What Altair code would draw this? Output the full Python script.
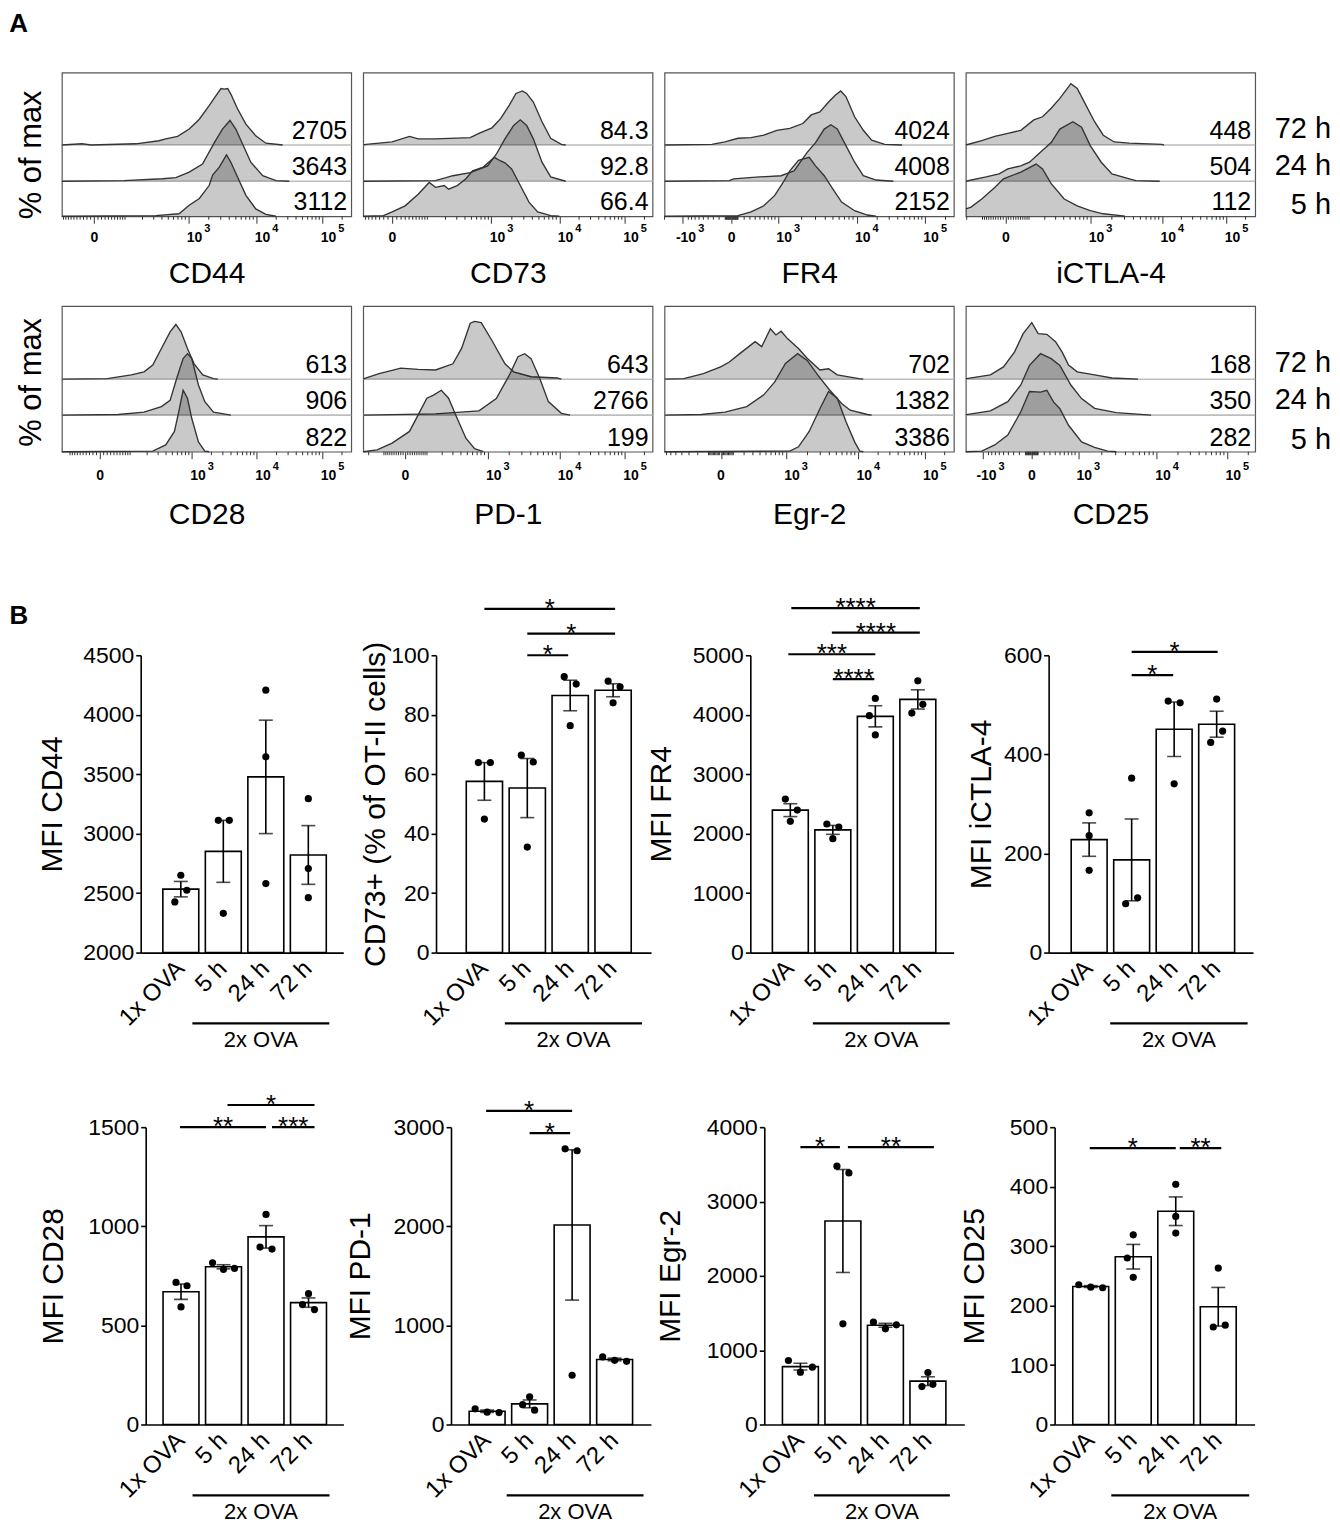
import numpy as np
import pandas as pd
import altair as alt

FONT = "Liberation Sans"

# ======================= A: flow histograms =======================
# points: (display channel 0-1000 along the biexponential axis, % of max)
CD44_72H = [(0,0),(70,2),(100,0),(255,2),(336,7),(359,10),(400,14),(440,26),(475,42),(509,64),(532,80),(550,92),(561,91),(573,92),(584,83),(607,59),(636,34),(670,15),(705,3),(763,0)]
CD44_24H = [(0,0),(215,1),(348,4),(394,6),(440,15),(486,28),(527,63),(555,85),(581,99),(601,85),(624,61),(653,31),(694,9),(740,1),(786,0)]
CD44_5H = [(0,0),(325,1),(405,4),(440,18),(475,29),(509,50),(521,67),(544,80),(569,100),(584,88),(607,64),(636,34),(670,12),(705,3),(740,0)]

CD73_72H = [(0,0),(10,1),(100,5),(160,14),(190,10),(250,10),(370,12),(400,19),(445,28),(475,43),(505,65),(528,84),(550,88),(565,84),(588,70),(618,38),(648,11),(685,1),(700,0)]
CD73_24H = [(0,0),(250,1),(310,9),(370,14),(430,25),(460,44),(490,69),(520,91),(543,100),(565,91),(588,69),(618,31),(648,7),(700,0)]
CD73_5H = [(0,0),(70,1),(100,7),(145,17),(190,36),(228,55),(250,47),(280,50),(295,44),(325,50),(355,61),(378,74),(415,80),(453,96),(475,90),(490,87),(513,77),(543,50),(573,23),(603,7),(648,1),(678,0)]

FR4_72H = [(0,0),(164,1),(209,5),(254,11),(299,12),(343,16),(388,24),(433,27),(478,35),(507,49),(537,54),(567,70),(590,81),(609,88),(627,79),(657,46),(687,24),(716,8),(761,1),(821,0)]
FR4_24H = [(0,0),(224,1),(239,4),(328,7),(403,9),(448,17),(493,47),(522,63),(552,85),(575,92),(597,85),(627,58),(657,31),(687,9),(731,2),(791,0)]
FR4_5H = [(0,0),(254,1),(299,7),(343,17),(381,34),(410,55),(433,74),(463,91),(500,96),(522,82),(552,66),(582,44),(612,23),(657,9),(701,2),(731,0)]

ICTLA4_72H = [(0,0),(55,7),(100,14),(145,19),(190,24),(235,41),(265,46),(295,60),(325,76),(363,100),(385,92),(415,65),(445,38),(475,16),(513,5),(565,3),(678,1),(685,0)]
ICTLA4_24H = [(0,0),(70,7),(115,12),(145,20),(190,25),(220,31),(250,44),(295,63),(325,85),(370,97),(400,88),(430,58),(468,31),(505,12),(565,4),(588,1),(670,0)]
ICTLA4_5H = [(0,12),(18,15),(55,28),(100,47),(130,61),(190,72),(243,85),(265,77),(295,53),(340,28),(385,17),(430,9),(475,4),(535,1),(550,0)]

CD28_72H = [(0,0),(157,1),(240,7),(284,12),(314,23),(344,50),(374,77),(394,89),(412,77),(434,50),(457,25),(487,7),(524,1),(539,0)]
CD28_24H = [(0,0),(195,1),(284,5),(344,14),(374,24),(397,60),(419,92),(434,100),(449,92),(472,49),(494,22),(524,5),(584,0)]
CD28_5H = [(0,0),(314,1),(359,11),(389,33),(404,65),(419,100),(434,87),(449,54),(472,16),(494,1),(509,0)]

PD1_72H = [(0,0),(3,1),(55,9),(130,18),(190,16),(250,15),(310,25),(340,50),(370,91),(385,94),(408,92),(445,63),(490,25),(520,12),(580,4),(670,2),(685,0)]
PD1_24H = [(0,0),(250,2),(400,7),(460,27),(505,65),(535,95),(558,100),(580,92),(610,60),(640,22),(685,3),(715,0)]
PD1_5H = [(0,0),(48,3),(100,14),(160,33),(190,60),(220,87),(243,92),(270,100),(295,87),(325,54),(355,22),(385,5),(415,0)]

EGR2_72H = [(0,0),(67,1),(134,9),(194,20),(224,28),(261,42),(291,53),(313,61),(336,53),(366,82),(385,72),(403,78),(425,66),(463,50),(493,34),(537,15),(567,17),(597,7),(672,1),(687,0)]
EGR2_24H = [(0,0),(127,1),(209,5),(284,14),(343,33),(381,54),(418,84),(460,100),(493,89),(530,65),(567,43),(612,19),(642,8),(701,1),(716,0)]
EGR2_5H = [(0,0),(433,1),(463,8),(500,33),(537,70),(567,98),(597,87),(627,49),(657,16),(675,1),(687,0)]

CD25_72H = [(0,0),(3,1),(85,7),(130,20),(168,44),(198,74),(228,92),(250,74),(280,73),(310,61),(333,44),(355,23),(385,12),(445,7),(505,2),(595,0)]
CD25_24H = [(0,0),(3,1),(85,7),(145,22),(190,49),(220,81),(258,100),(295,92),(325,81),(363,49),(400,27),(445,11),(520,4),(640,0)]
CD25_5H = [(0,0),(55,1),(100,11),(145,27),(190,65),(220,98),(258,97),(280,100),(303,81),(325,70),(355,43),(400,16),(445,7),(490,1),(520,0)]

TIME_LABELS = ["72 h", "24 h", "5 h"]
MFI_CD44 = ["2705", "3643", "3112"]
MFI_CD73 = ["84.3", "92.8", "66.4"]
MFI_FR4 = ["4024", "4008", "2152"]
MFI_ICTLA4 = ["448", "504", "112"]
MFI_CD28 = ["613", "906", "822"]
MFI_PD1 = ["643", "2766", "199"]
MFI_EGR2 = ["702", "1382", "3386"]
MFI_CD25 = ["168", "350", "282"]

# ======================= B: bar charts =======================
GROUPS = ["1x OVA", "5 h", "24 h", "72 h"]
CD44_PTS = [[2650, 2524, 2426], [3112, 3112, 2330], [4206, 3646, 2580], [3294, 2706, 2462]]
CD73_PTS = [[63.9, 63.9, 44.9], [66.4, 64.1, 35.5], [92.8, 90.3, 76.3], [91.3, 89.4, 84.0]]
FR4_PTS = [[2581, 2397, 2207], [2162, 2112, 1916], [4274, 3984, 3660], [4570, 4028, 4174]]
ICTLA4_PTS = [[282, 236, 166], [352, 98.5, 110.6], [507.5, 504, 340.6], [511.5, 447, 424]]
CD28_PTS = [[717, 700, 593], [816, 783, 788], [1060, 895, 885], [660, 605, 580]]
PD1_PTS = [[158, 124, 120], [280, 200, 145], [2782, 2762, 497], [682, 648, 638]]
EGR2_PTS = [[861, 771, 704], [3475, 3385, 1354], [1377, 1287, 1341], [700, 510, 540]]
CD25_PTS = [[235, 231, 230], [319, 280, 247.5], [404, 350, 322], [263, 164, 167]]

# significance brackets: (from, to, y level, label)
SIG_CD44 = []
SIG_CD73 = [("1x OVA", "72 h", 115.6, "*"), ("5 h", "72 h", 107.3, "*"), ("5 h", "24 h", 100.0, "*")]
SIG_FR4 = [("1x OVA", "72 h", 5794, "****"), ("5 h", "72 h", 5380, "****"), ("1x OVA", "24 h", 5017, "***"), ("5 h", "24 h", 4598, "****")]
SIG_ICTLA4 = [("5 h", "72 h", 606.7, "*"), ("5 h", "24 h", 559.8, "*")]
SIG_CD28 = [("5 h", "72 h", 1612, "*"), ("1x OVA", "24 h", 1500, "**"), ("24 h", "72 h", 1500, "***")]
SIG_PD1 = [("1x OVA", "24 h", 3165, "*"), ("5 h", "24 h", 2940, "*")]
SIG_EGR2 = [("1x OVA", "5 h", 3731, "*"), ("5 h", "72 h", 3731, "**")]
SIG_CD25 = [("1x OVA", "24 h", 464.8, "*"), ("24 h", "72 h", 464.8, "**")]

# ---------------- layout / style (not data) ----------------
JIT_CD44 = [[0, 6, -6], [-5, 6, 0], [0, 0, 0], [0, 0, 0]]
JIT_CD73 = [[-6, 6, 0], [-6, 6, 0], [-6, 6, 0], [-5, 7, 0]]
JIT_FR4 = [[-5, 7, 0], [-6, 6, 0], [0, -6, 0], [0, -6, 5]]
JIT_ICTLA4 = [[0, 0, 0], [0, -6, 6], [-6, 6, 0], [0, 6, -6]]
JIT_CD28 = [[-5, 6, 0], [-11, 0, 11], [0, -6, 6], [0, -6, 6]]
JIT_PD1 = [[-12, 0, 12], [0, -7, 5], [-7, 5, 0], [-12, 0, 12]]
JIT_EGR2 = [[-12, 12, 0], [-6, 6, 0], [-12, 0, 11], [0, -6, 5]]
JIT_CD25 = [[-12, 0, 12], [0, -6, 0], [0, 0, 0], [0, -5, 7]]
TRIM_CD44 = []
TRIM_CD73 = [(0, 2), (0, 2), (0, -2)]
TRIM_FR4 = [(1, 2), (-1, 2), (-2, 0), (0, -1)]
TRIM_ICTLA4 = [(0, 1), (0, -1)]
TRIM_CD28 = [(4, 6), (-1, 0), (6, 6)]
TRIM_PD1 = [(-1, 0), (0, -2)]
TRIM_EGR2 = [(0, -3), (5, 6)]
TRIM_CD25 = [(-1, 0), (4, 3)]

HIST_AXIS = {  # (-10^3, 0, 10^3, 10^4, 10^5) positions on display channel
    "CD44": (None, 112, 437, 672, 900),
    "CD73": (None, 101, 443, 678, 904),
    "FR4": (61, 232, 392, 664, 900),
    "iCTLA-4": (None, 138, 430, 678, 900),
    "CD28": (None, 132, 449, 674, 900),
    "PD-1": (None, 146, 430, 678, 904),
    "Egr-2": (None, 195, 419, 669, 899),
    "CD25": (58, 228, 388, 660, 903),
}

BLAY = {
    "CD44": dict(W=203, left=22.2, step=42.6, toff=88.6, ova=(-31, 21)),
    "CD73": dict(W=215.5, left=30.3, step=43.0, toff=61, ova=(-22.5, 29)),
    "FR4": dict(W=203.8, left=22.1, step=42.6, toff=89, ova=(-20, 32)),
    "iCTLA-4": dict(W=204.8, left=22.6, step=42.6, toff=67, ova=(-21.5, 31)),
    "CD28": dict(W=198.2, left=17.4, step=42.6, toff=92, ova=(-31, 21)),
    "PD-1": dict(W=200.4, left=18.2, step=42.6, toff=91, ova=(-23, 29)),
    "Egr-2": dict(W=200.4, left=18.2, step=42.6, toff=94, ova=(-29, 22)),
    "CD25": dict(W=200.4, left=18.2, step=42.6, toff=80, ova=(-22, 31)),
}
PI = 0.155
NOVIEW = alt.ViewBackground(stroke="transparent", strokeWidth=0)


def minor_ticks(axpos):
    neg, z, d3, d4, d5 = axpos
    D = ((d4 - d3) + (d5 - d4)) / 2.0
    A = (d3 - z) * np.log(10) / D
    c = 1000.0 / np.sinh(A)
    out = []
    vals = list(range(10, 100, 10)) + list(range(100, 1000, 100))
    for v in vals:
        r = (d3 - z) * np.arcsinh(v / c) / A
        out += [z + r, z - r]
    for k in range(2, 10):
        out.append(d3 + np.log10(k) * (d4 - d3))
        out.append(d4 + np.log10(k) * (d5 - d4))
        out.append(d5 + np.log10(k) * (d5 - d4))
        if neg is not None:
            out.append(z - (d3 - z) * np.arcsinh(k * 1000 / c) / A)
    return [float(p) for p in out if 0 <= p <= 1000]


def hist_panel(name, curves, mfi, W, H, ydom, offs, ytitle=False, ytshift=0,
               times=False, letter=None, tdy=58, ly=22):
    neg, z, d3, d4, d5 = HIST_AXIS[name]
    decades = ([(neg, "-10", "3")] if neg is not None else []) + [
        (d3, "10", "3"), (d4, "10", "4"), (d5, "10", "5")]
    majors = [p for p, _, _ in decades] + [z]
    xs = alt.Scale(domain=[0, 1000], nice=False, zero=False)
    ys = alt.Scale(domain=[0, ydom], nice=False, zero=False)
    xaxis = alt.Axis(values=majors, labels=False, tickSize=7,
                     tickColor="#333333", tickWidth=1, domain=False, grid=False,
                     title=name, titleFont=FONT, titleFontSize=30, titleFontWeight="normal",
                     titleColor="black", titleY=tdy, titleBaseline="middle")
    if ytitle:
        yaxis = alt.Axis(title="% of max", labels=False, ticks=False, domain=False, grid=False,
                         titleFont=FONT, titleFontSize=31, titleFontWeight="normal",
                         titleColor="black", titleAngle=270, titleX=-30, titleY=H / 2 + ytshift,
                         titleAlign="center", titleBaseline="middle")
    else:
        yaxis = None

    def X(f):
        return alt.X(f, type="quantitative", scale=xs, axis=xaxis)

    def Y(f):
        return alt.Y(f, type="quantitative", scale=ys, axis=yaxis)

    layers = []
    sep = pd.DataFrame({"base": offs[:2]})
    layers.append(alt.Chart(sep).mark_rule(color="#bdbdbd", strokeWidth=1.6).encode(y=Y("base")))
    for pts, off in zip(curves, offs):
        d = pd.DataFrame({"ch": [p[0] for p in pts], "y": [off + p[1] for p in pts],
                          "base": [off] * len(pts)})
        layers.append(alt.Chart(d).mark_area(color="black", fillOpacity=0.21).encode(
            x=X("ch"), y=Y("y"), y2="base:Q"))
        layers.append(alt.Chart(d).mark_line(color="#333333", strokeWidth=1.35).encode(
            x=X("ch"), y=Y("y")))
    mt = pd.DataFrame({"ch": minor_ticks(HIST_AXIS[name])})
    layers.append(alt.Chart(mt).mark_rule(color="#333333", strokeWidth=1).encode(
        x=X("ch"), y=alt.value(H), y2=alt.value(H + 3.5)))
    # tick labels (base + superscript exponent)
    zdf = pd.DataFrame({"ch": [z], "t": ["0"]})
    ddf = pd.DataFrame({"ch": [p for p, _, _ in decades], "b": [b for _, b, _ in decades],
                        "s": [s for _, _, s in decades]})
    tstyle = dict(font=FONT, fontWeight="bold", color="black", baseline="middle")
    layers.append(alt.Chart(zdf).mark_text(align="center", fontSize=14, **tstyle).encode(
        x=X("ch"), y=alt.value(H + ly), text="t:N"))
    layers.append(alt.Chart(ddf).mark_text(align="right", dx=14, fontSize=14, **tstyle).encode(
        x=X("ch"), y=alt.value(H + ly), text="b:N"))
    layers.append(alt.Chart(ddf).mark_text(align="left", dx=16, fontSize=11, **tstyle).encode(
        x=X("ch"), y=alt.value(H + ly - 9), text="s:N"))
    pxu = H / ydom
    lab = pd.DataFrame({"t": mfi, "yv": [o + 6 / pxu for o in offs]})
    layers.append(alt.Chart(lab).mark_text(align="right", baseline="alphabetic", fontSize=25,
                                           font=FONT, color="black").encode(
        x=alt.value(W - 4), y=Y("yv"), text="t:N"))
    if times:
        tl = pd.DataFrame({"t": TIME_LABELS,
                           "yv": [offs[0] + 7.5 / pxu, offs[1] + 6 / pxu, offs[2] + 2.5 / pxu]})
        layers.append(alt.Chart(tl).mark_text(align="right", baseline="alphabetic", fontSize=29,
                                              font=FONT, color="black").encode(
            x=alt.value(W + 76), y=Y("yv"), text="t:N"))
    if letter is not None:
        lt = pd.DataFrame({"t": [letter[0]]})
        layers.append(alt.Chart(lt).mark_text(align="left", baseline="top", fontSize=26,
                                              fontWeight="bold", font=FONT, color="black").encode(
            x=alt.value(letter[1]), y=alt.value(letter[2]), text="t:N"))
    return alt.layer(*layers).properties(
        width=W, height=H, view=alt.ViewBackground(stroke="#555555", strokeWidth=1.2))


def bar_panel(name, pts, jit, dom, tstep, ytitle, H, sig, trims, letter=None):
    lay = BLAY[name]
    W, left, step = lay["W"], lay["left"], lay["step"]
    bw = step * (1 - PI)
    span = step * (4 - PI)
    outer = W - span
    po = outer / (2 * step)
    al = min(max(left / outer, 0.0), 1.0)
    rows = []
    for g, vs, js in zip(GROUPS, pts, jit):
        for v, j in zip(vs, js):
            rows.append({"group": g, "value": v, "dx": j + bw / 2})
    df = pd.DataFrame(rows)
    xs = alt.Scale(domain=GROUPS, paddingInner=PI, paddingOuter=po, align=al)
    ys = alt.Scale(domain=dom, nice=False, zero=False)
    xaxis = alt.Axis(title=None, labelAngle=-45, labelAlign="right", labelBaseline="middle",
                     ticks=False, tickSize=0, labelPadding=12, domainColor="black",
                     domainWidth=1.6, labelFont=FONT, labelFontSize=24, labelColor="black",
                     grid=False, labelOverlap=False)
    tv = [int(v) for v in range(int(dom[0]), int(dom[1]) + 1, int(tstep))]
    yaxis = alt.Axis(title=ytitle, values=tv, format="d", tickSize=5, tickWidth=1.6,
                     tickColor="black", domainColor="black", domainWidth=1.6, labelFont=FONT,
                     labelFontSize=23, labelColor="black", labelPadding=2, grid=False,
                     labelFlush=False, labelOverlap=False, titleFont=FONT, titleFontSize=30,
                     titleFontWeight="normal", titleColor="black", titleAngle=270,
                     titleX=-lay["toff"], titleY=H / 2, titleAlign="center",
                     titleBaseline="middle")

    def X(f):
        return alt.X(f, type="nominal", scale=xs, axis=xaxis, sort=GROUPS)

    def Y(f, agg=None):
        if agg:
            return alt.Y(f, aggregate=agg, type="quantitative", scale=ys, axis=yaxis)
        return alt.Y(f, type="quantitative", scale=ys, axis=yaxis)

    layers = [
        alt.Chart(df).mark_bar(fill="white", stroke="black", strokeWidth=1.6).encode(
            x=X("group"), y=Y("value", "mean"), y2=alt.Y2Datum(dom[0])),
        alt.Chart(df).mark_errorbar(extent="stderr", ticks=True, size=14, thickness=1.6,
                                    color="black").encode(x=X("group"), y=Y("value")),
        alt.Chart(df).mark_circle(size=52, color="black", opacity=1).encode(
            x=X("group"), xOffset=alt.XOffset("dx:Q", scale=None), y=Y("value")),
    ]
    for (g1, g2, yv, lab), (t1, t2) in zip(sig, trims):
        i1, i2 = GROUPS.index(g1), GROUPS.index(g2)
        d = pd.DataFrame({"g1": [g1], "g2": [g2], "y": [yv], "t": [lab],
                          "dx": [bw / 2 + (i2 - i1) * step / 2 + (t1 + t2) / 2]})
        layers.append(alt.Chart(d).mark_rule(color="black", strokeWidth=2.2, xOffset=t1,
                                             x2Offset=t2).encode(
            x=X("g1"), x2="g2:N", y=Y("y")))
        layers.append(alt.Chart(d).mark_text(fontSize=26, baseline="alphabetic", dy=8,
                                             align="center", font=FONT, color="black").encode(
            x=X("g1"), xOffset=alt.XOffset("dx:Q", scale=None), y=Y("y"), text="t:N"))
    s, e = lay["ova"]
    od = pd.DataFrame({"g1": ["5 h"], "g2": ["72 h"], "t": ["2x OVA"],
                       "dx": [bw / 2 + step + (s + e) / 2]})
    layers.append(alt.Chart(od).mark_rule(color="black", strokeWidth=2.2, xOffset=s,
                                          x2Offset=e).encode(
        x=X("g1"), x2="g2:N", y=alt.value(H + 71)))
    layers.append(alt.Chart(od).mark_text(fontSize=22, baseline="middle", align="center",
                                          font=FONT, color="black").encode(
        x=X("g1"), xOffset=alt.XOffset("dx:Q", scale=None), y=alt.value(H + 88), text="t:N"))
    if letter is not None:
        lt = pd.DataFrame({"t": [letter[0]]})
        layers.append(alt.Chart(lt).mark_text(align="left", baseline="top", fontSize=26,
                                              fontWeight="bold", font=FONT, color="black").encode(
            x=alt.value(letter[1]), y=alt.value(letter[2]), text="t:N"))
    return alt.layer(*layers).properties(width=W, height=H, view=NOVIEW)


def spacer(w, h, anchor=None):
    """Empty cell; optional invisible rule fixes the row's outer bounds (left, top, bottom)."""
    one = pd.DataFrame({"v": [0]})
    base = alt.Chart(one).mark_rule(opacity=0, strokeWidth=0).encode(
        x=alt.value(0), y=alt.value(0), y2=alt.value(h))
    if anchor is None:
        return base.properties(width=w, height=h, view=NOVIEW)
    left, top, bottom = anchor
    anc = alt.Chart(one).mark_rule(opacity=0, strokeWidth=0).encode(
        x=alt.value(-left), y=alt.value(-top), y2=alt.value(h + bottom))
    return alt.layer(base, anc).properties(width=w, height=h, view=NOVIEW)


def row(cells):
    return alt.hconcat(*cells, spacing=0, bounds="flush")


X0 = 40.0      # page x of each row's origin
LEFT = 32.0    # overflow kept to the left of the row origin
HW = 290
HG = 11.3
TOP_H, BOT_H = 144, 146
BH = 298

rowA1 = row([
    spacer(60.7 - X0, TOP_H, anchor=(LEFT, 62, 88)),
    hist_panel("CD44", [CD44_72H, CD44_24H, CD44_5H], MFI_CD44, HW, TOP_H, 234, [116, 57, 0],
               ytitle=True, ytshift=10, letter=("A", -52.7, -62), tdy=57, ly=22),
    spacer(HG, TOP_H),
    hist_panel("CD73", [CD73_72H, CD73_24H, CD73_5H], MFI_CD73, HW, TOP_H, 234, [116, 57, 0],
               tdy=57, ly=22),
    spacer(HG, TOP_H),
    hist_panel("FR4", [FR4_72H, FR4_24H, FR4_5H], MFI_FR4, HW, TOP_H, 234, [116, 57, 0],
               tdy=57, ly=22),
    spacer(HG, TOP_H),
    hist_panel("iCTLA-4", [ICTLA4_72H, ICTLA4_24H, ICTLA4_5H], MFI_ICTLA4, HW, TOP_H, 234,
               [116, 57, 0], times=True, tdy=57, ly=22),
])
rowA2 = row([
    spacer(60.7 - X0, BOT_H, anchor=(LEFT, 2, 133.7)),
    hist_panel("CD28", [CD28_72H, CD28_24H, CD28_5H], MFI_CD28, HW, BOT_H, 237, [118, 59.5, 0],
               ytitle=True, ytshift=3, tdy=63, ly=24),
    spacer(HG, BOT_H),
    hist_panel("PD-1", [PD1_72H, PD1_24H, PD1_5H], MFI_PD1, HW, BOT_H, 237, [118, 59.5, 0],
               tdy=63, ly=24),
    spacer(HG, BOT_H),
    hist_panel("Egr-2", [EGR2_72H, EGR2_24H, EGR2_5H], MFI_EGR2, HW, BOT_H, 237, [118, 59.5, 0],
               tdy=63, ly=24),
    spacer(HG, BOT_H),
    hist_panel("CD25", [CD25_72H, CD25_24H, CD25_5H], MFI_CD25, HW, BOT_H, 237, [118, 59.5, 0],
               times=True, tdy=63, ly=24),
])
rowB1 = row([
    spacer(139.6 - X0, BH, anchor=(LEFT, 70, 124.8)),
    bar_panel("CD44", CD44_PTS, JIT_CD44, [2000, 4500], 500, "MFI CD44", BH, SIG_CD44, TRIM_CD44,
              letter=("B", -131.6, -52.7)),
    spacer(92.4, BH),
    bar_panel("CD73", CD73_PTS, JIT_CD73, [0, 100], 20, "CD73+ (% of OT-II cells)", BH, SIG_CD73,
              TRIM_CD73),
    spacer(98.4, BH),
    bar_panel("FR4", FR4_PTS, JIT_FR4, [0, 5000], 1000, "MFI FR4", BH, SIG_FR4, TRIM_FR4),
    spacer(94.5, BH),
    bar_panel("iCTLA-4", ICTLA4_PTS, JIT_ICTLA4, [0, 600], 200, "MFI iCTLA-4", BH, SIG_ICTLA4,
              TRIM_ICTLA4),
])
rowB2 = row([
    spacer(144.4 - X0, BH, anchor=(LEFT, 50, 90)),
    bar_panel("CD28", CD28_PTS, JIT_CD28, [0, 1500], 500, "MFI CD28", BH, SIG_CD28, TRIM_CD28),
    spacer(106.2, BH),
    bar_panel("PD-1", PD1_PTS, JIT_PD1, [0, 3000], 1000, "MFI PD-1", BH, SIG_PD1, TRIM_PD1),
    spacer(112.7, BH),
    bar_panel("Egr-2", EGR2_PTS, JIT_EGR2, [0, 4000], 1000, "MFI Egr-2", BH, SIG_EGR2, TRIM_EGR2),
    spacer(89.3, BH),
    bar_panel("CD25", CD25_PTS, JIT_CD25, [0, 500], 100, "MFI CD25", BH, SIG_CD25, TRIM_CD25),
])

chart = alt.vconcat(rowA1, rowA2, rowB1, rowB2, spacing=0).properties(
    padding=0, autosize=alt.AutoSizeParams(type="pad")
).configure_view(stroke="transparent", strokeWidth=0).configure(font=FONT)

chart.save("out.html", embed_options={"renderer": "svg", "actions": False})
